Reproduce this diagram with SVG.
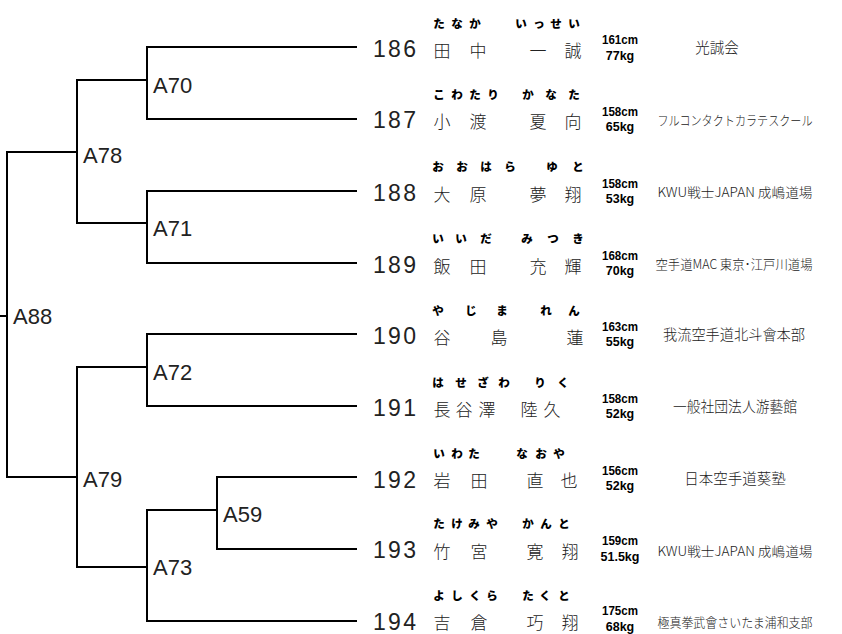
<svg xmlns="http://www.w3.org/2000/svg" width="842" height="634" viewBox="0 0 842 634">
<style>
.ln{fill:none;stroke:#000;stroke-width:2}
.lb{font-family:"Liberation Sans",Arial,sans-serif;font-size:22px;fill:#222}
.no{font-family:"Liberation Sans",Arial,sans-serif;font-size:23px;fill:#222}
.nm{font-family:"Noto Sans CJK JP",sans-serif;font-size:17px;font-weight:300;fill:#222;text-anchor:middle}
.fu{font-family:"Noto Sans CJK JP",sans-serif;font-size:11.5px;font-weight:900;fill:#000;text-anchor:middle}
.hw{font-family:"Liberation Sans",Arial,sans-serif;font-size:12.5px;font-weight:bold;fill:#000;text-anchor:middle}
.dj{font-family:"Noto Sans CJK JP",sans-serif;font-size:14.5px;font-weight:300;fill:#222;text-anchor:middle}
.dl{font-family:"Noto Sans CJK JP",sans-serif;font-size:13px;font-weight:300;fill:#222;text-anchor:middle}
</style>
<rect width="842" height="634" fill="#fff"/>
<g id="connectors">
<path class="ln" d="M357,47 H147 V119 H357"/>
<path class="ln" d="M357,191 H147 V263 H357"/>
<path class="ln" d="M357,334 H147 V406 H357"/>
<path class="ln" d="M357,477 H217 V549 H357"/>
<path class="ln" d="M217,510 H147 V621 H357"/>
<path class="ln" d="M147,80 H77 V223 H147"/>
<path class="ln" d="M147,367 H77 V567 H147"/>
<path class="ln" d="M77,152 H7 V477 H77"/>
<path class="ln" d="M0,316 H7"/>
</g>
<g id="A70"><text class="lb" x="153" y="93">A70</text></g>
<g id="A71"><text class="lb" x="153" y="236">A71</text></g>
<g id="A72"><text class="lb" x="153" y="380">A72</text></g>
<g id="A73"><text class="lb" x="153" y="575">A73</text></g>
<g id="A59"><text class="lb" x="223" y="522">A59</text></g>
<g id="A78"><text class="lb" x="83" y="163">A78</text></g>
<g id="A79"><text class="lb" x="83" y="487">A79</text></g>
<g id="A88"><text class="lb" x="13" y="324">A88</text></g>

<g id="p186">
<text class="no" x="373" y="57" textLength="43" lengthAdjust="spacing">186</text>
<text class="fu" y="28"><tspan x="439">た</tspan><tspan x="457">な</tspan><tspan x="475">か</tspan><tspan x="521">い</tspan><tspan x="539">っ</tspan><tspan x="556">せ</tspan><tspan x="574">い</tspan></text>
<text class="nm" y="57"><tspan x="442">田</tspan><tspan x="478">中</tspan><tspan x="538">一</tspan><tspan x="573">誠</tspan></text>
<text class="hw" x="620" y="44" textLength="36" lengthAdjust="spacingAndGlyphs">161cm</text><text class="hw" x="620" y="60">77kg</text>
<text class="dj" x="717" y="53">光誠会</text>
</g>
<g id="p187">
<text class="no" x="373" y="128" textLength="43" lengthAdjust="spacing">187</text>
<text class="fu" y="99"><tspan x="439">こ</tspan><tspan x="457">わ</tspan><tspan x="475">た</tspan><tspan x="493">り</tspan><tspan x="528">か</tspan><tspan x="551">な</tspan><tspan x="574">た</tspan></text>
<text class="nm" y="128"><tspan x="442">小</tspan><tspan x="478">渡</tspan><tspan x="538">夏</tspan><tspan x="573">向</tspan></text>
<text class="hw" x="620" y="116" textLength="36" lengthAdjust="spacingAndGlyphs">158cm</text><text class="hw" x="620" y="131">65kg</text>
<text class="dl" x="735" y="125" textLength="155" lengthAdjust="spacingAndGlyphs">フルコンタクトカラテスクール</text>
</g>
<g id="p188">
<text class="no" x="373" y="201" textLength="43" lengthAdjust="spacing">188</text>
<text class="fu" y="171"><tspan x="438">お</tspan><tspan x="462">お</tspan><tspan x="486">は</tspan><tspan x="510">ら</tspan><tspan x="552">ゆ</tspan><tspan x="578">と</tspan></text>
<text class="nm" y="201"><tspan x="442">大</tspan><tspan x="478">原</tspan><tspan x="538">夢</tspan><tspan x="573">翔</tspan></text>
<text class="hw" x="620" y="188" textLength="36" lengthAdjust="spacingAndGlyphs">158cm</text><text class="hw" x="620" y="203">53kg</text>
<text class="dl" x="735" y="197" textLength="155" lengthAdjust="spacingAndGlyphs">KWU戦士JAPAN 成嶋道場</text>
</g>
<g id="p189">
<text class="no" x="373" y="273" textLength="43" lengthAdjust="spacing">189</text>
<text class="fu" y="243"><tspan x="438">い</tspan><tspan x="461">い</tspan><tspan x="486">だ</tspan><tspan x="527">み</tspan><tspan x="553">つ</tspan><tspan x="578">き</tspan></text>
<text class="nm" y="273"><tspan x="442">飯</tspan><tspan x="478">田</tspan><tspan x="538">充</tspan><tspan x="573">輝</tspan></text>
<text class="hw" x="620" y="260" textLength="36" lengthAdjust="spacingAndGlyphs">168cm</text><text class="hw" x="620" y="275">70kg</text>
<text class="dl" x="734" y="269" textLength="157" lengthAdjust="spacingAndGlyphs">空手道MAC 東京･江戸川道場</text>
</g>
<g id="p190">
<text class="no" x="373" y="344" textLength="43" lengthAdjust="spacing">190</text>
<text class="fu" y="315"><tspan x="438">や</tspan><tspan x="471">じ</tspan><tspan x="502">ま</tspan><tspan x="546">れ</tspan><tspan x="574">ん</tspan></text>
<text class="nm" y="344"><tspan x="442">谷</tspan><tspan x="499">島</tspan><tspan x="575">蓮</tspan></text>
<text class="hw" x="620" y="331" textLength="36" lengthAdjust="spacingAndGlyphs">163cm</text><text class="hw" x="620" y="346">55kg</text>
<text class="dj" x="734" y="340" textLength="142" lengthAdjust="spacingAndGlyphs">我流空手道北斗會本部</text>
</g>
<g id="p191">
<text class="no" x="373" y="416" textLength="43" lengthAdjust="spacing">191</text>
<text class="fu" y="387"><tspan x="438">は</tspan><tspan x="461">せ</tspan><tspan x="483">ざ</tspan><tspan x="504">わ</tspan><tspan x="540">り</tspan><tspan x="563">く</tspan></text>
<text class="nm" y="416"><tspan x="442">長</tspan><tspan x="464">谷</tspan><tspan x="487">澤</tspan><tspan x="529">陸</tspan><tspan x="552">久</tspan></text>
<text class="hw" x="620" y="403" textLength="36" lengthAdjust="spacingAndGlyphs">158cm</text><text class="hw" x="620" y="418">52kg</text>
<text class="dj" x="735" y="412" textLength="124" lengthAdjust="spacingAndGlyphs">一般社団法人游藝館</text>
</g>
<g id="p192">
<text class="no" x="373" y="488" textLength="43" lengthAdjust="spacing">192</text>
<text class="fu" y="458"><tspan x="439">い</tspan><tspan x="457">わ</tspan><tspan x="474">た</tspan><tspan x="522">な</tspan><tspan x="541">お</tspan><tspan x="559">や</tspan></text>
<text class="nm" y="487"><tspan x="442">岩</tspan><tspan x="479">田</tspan><tspan x="535">直</tspan><tspan x="569">也</tspan></text>
<text class="hw" x="620" y="475" textLength="36" lengthAdjust="spacingAndGlyphs">156cm</text><text class="hw" x="620" y="490">52kg</text>
<text class="dj" x="735" y="484">日本空手道葵塾</text>
</g>
<g id="p193">
<text class="no" x="373" y="558" textLength="43" lengthAdjust="spacing">193</text>
<text class="fu" y="528"><tspan x="439">た</tspan><tspan x="457">け</tspan><tspan x="474">み</tspan><tspan x="492">や</tspan><tspan x="528">か</tspan><tspan x="546">ん</tspan><tspan x="564">と</tspan></text>
<text class="nm" y="558"><tspan x="442">竹</tspan><tspan x="479">宮</tspan><tspan x="535">寛</tspan><tspan x="570">翔</tspan></text>
<text class="hw" x="620" y="545" textLength="36" lengthAdjust="spacingAndGlyphs">159cm</text><text class="hw" x="620" y="561">51.5kg</text>
<text class="dl" x="735" y="556" textLength="155" lengthAdjust="spacingAndGlyphs">KWU戦士JAPAN 成嶋道場</text>
</g>
<g id="p194">
<text class="no" x="373" y="630" textLength="43" lengthAdjust="spacing">194</text>
<text class="fu" y="600"><tspan x="439">よ</tspan><tspan x="457">し</tspan><tspan x="475">く</tspan><tspan x="492">ら</tspan><tspan x="528">た</tspan><tspan x="545">く</tspan><tspan x="564">と</tspan></text>
<text class="nm" y="629"><tspan x="442">吉</tspan><tspan x="479">倉</tspan><tspan x="535">巧</tspan><tspan x="570">翔</tspan></text>
<text class="hw" x="620" y="615" textLength="36" lengthAdjust="spacingAndGlyphs">175cm</text><text class="hw" x="620" y="631">68kg</text>
<text class="dl" x="735" y="627" textLength="155" lengthAdjust="spacingAndGlyphs">極真拳武會さいたま浦和支部</text>
</g>
</svg>
